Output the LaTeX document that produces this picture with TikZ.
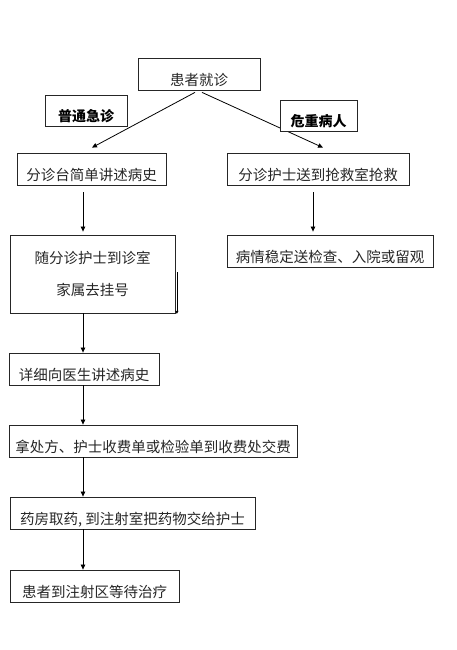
\documentclass[tikz,border=0pt]{standalone}
\usepackage{fontspec}
\newfontfamily\cjk{Noto Sans CJK SC}
\usetikzlibrary{arrows.meta,calc}
\begin{document}
\begin{tikzpicture}[x=1pt,y=1pt,
  box/.style={draw=black!85,line width=0.8pt,inner sep=0pt,text height=25pt,text depth=2pt,
    font=\cjk\fontsize{14.5}{17}\selectfont,text=black!85},
  twoline/.style={draw=black!85,line width=0.8pt,inner sep=0pt,align=center,
    font=\cjk\fontsize{14.5}{32}\selectfont,text=black!85},
  lab/.style={box,fill=white,font=\cjk\bfseries\fontsize{14}{17}\selectfont,text=black},
  arr/.style={draw=black,line width=0.8pt,-{Triangle[length=5pt,width=4.5pt]}},
  arrsmall/.style={draw=black,line width=0.8pt,-{Triangle[length=3pt,width=3pt]}}]
\useasboundingbox (0,0) rectangle (456,650);
\coordinate (colL) at (83,0);
\coordinate (colR) at (313,0);
\node[box,minimum width=122,minimum height=32] (top) at (199,576) {患者就诊};
\node[box,minimum width=149,minimum height=32] (L1) at (91.5,481) {分诊台简单讲述病史};
\node[box,minimum width=182,minimum height=32] (R1) at (318,481) {分诊护士送到抢救室抢救};
\node[twoline,minimum width=165,minimum height=78] (L2) at (92.5,376) {随分诊护士到诊室\\家属去挂号};
\node[box,minimum width=206,minimum height=32] (R2) at (330,399) {病情稳定送检查、入院或留观};
\node[box,minimum width=150,minimum height=32] (L3) at (84,281) {详细向医生讲述病史};
\node[box,minimum width=288,minimum height=32] (L4) at (153,209) {拿处方、护士收费单或检验单到收费处交费};
\node[box,minimum width=245,minimum height=32] (L5) at (132.5,137) {药房取药, 到注射室把药物交给护士};
\node[box,minimum width=169,minimum height=32] (L6) at (94.5,64) {患者到注射区等待治疗};

\draw[arr] ($(top.south)+(-4,-2)$) -- ($(L1.north)+(0.5,5)$);
\draw[arr] ($(top.south)+(3,-2)$) -- ($(R1.north)+(5,5)$);
\draw[arr] ($(L1.south -| colL)+(0,-7)$) -- ($(L2.north -| colL)+(0,3)$);
\draw[arr] ($(R1.south -| colR)+(0,-7)$) -- ($(R2.north -| colR)+(0,3)$);
\draw[arr] (L2.south -| colL) -- (L3.north -| colL);
\draw[arr] (L3.south -| colL) -- (L4.north -| colL);
\draw[arr] (L4.south -| colL) -- (L5.north -| colL);
\draw[arr] (L5.south -| colL) -- (L6.north -| colL);
\draw[arrsmall] ($(L2.south east)+(1.5,41)$) -- ($(L2.south east)+(1.5,-0.5)$);

\node[lab,minimum width=82,minimum height=31] (lab1) at (86,539.5) {普通急诊};
\node[lab,minimum width=77,minimum height=31] (lab2) at (318.5,534.5) {危重病人};
\end{tikzpicture}
\end{document}
